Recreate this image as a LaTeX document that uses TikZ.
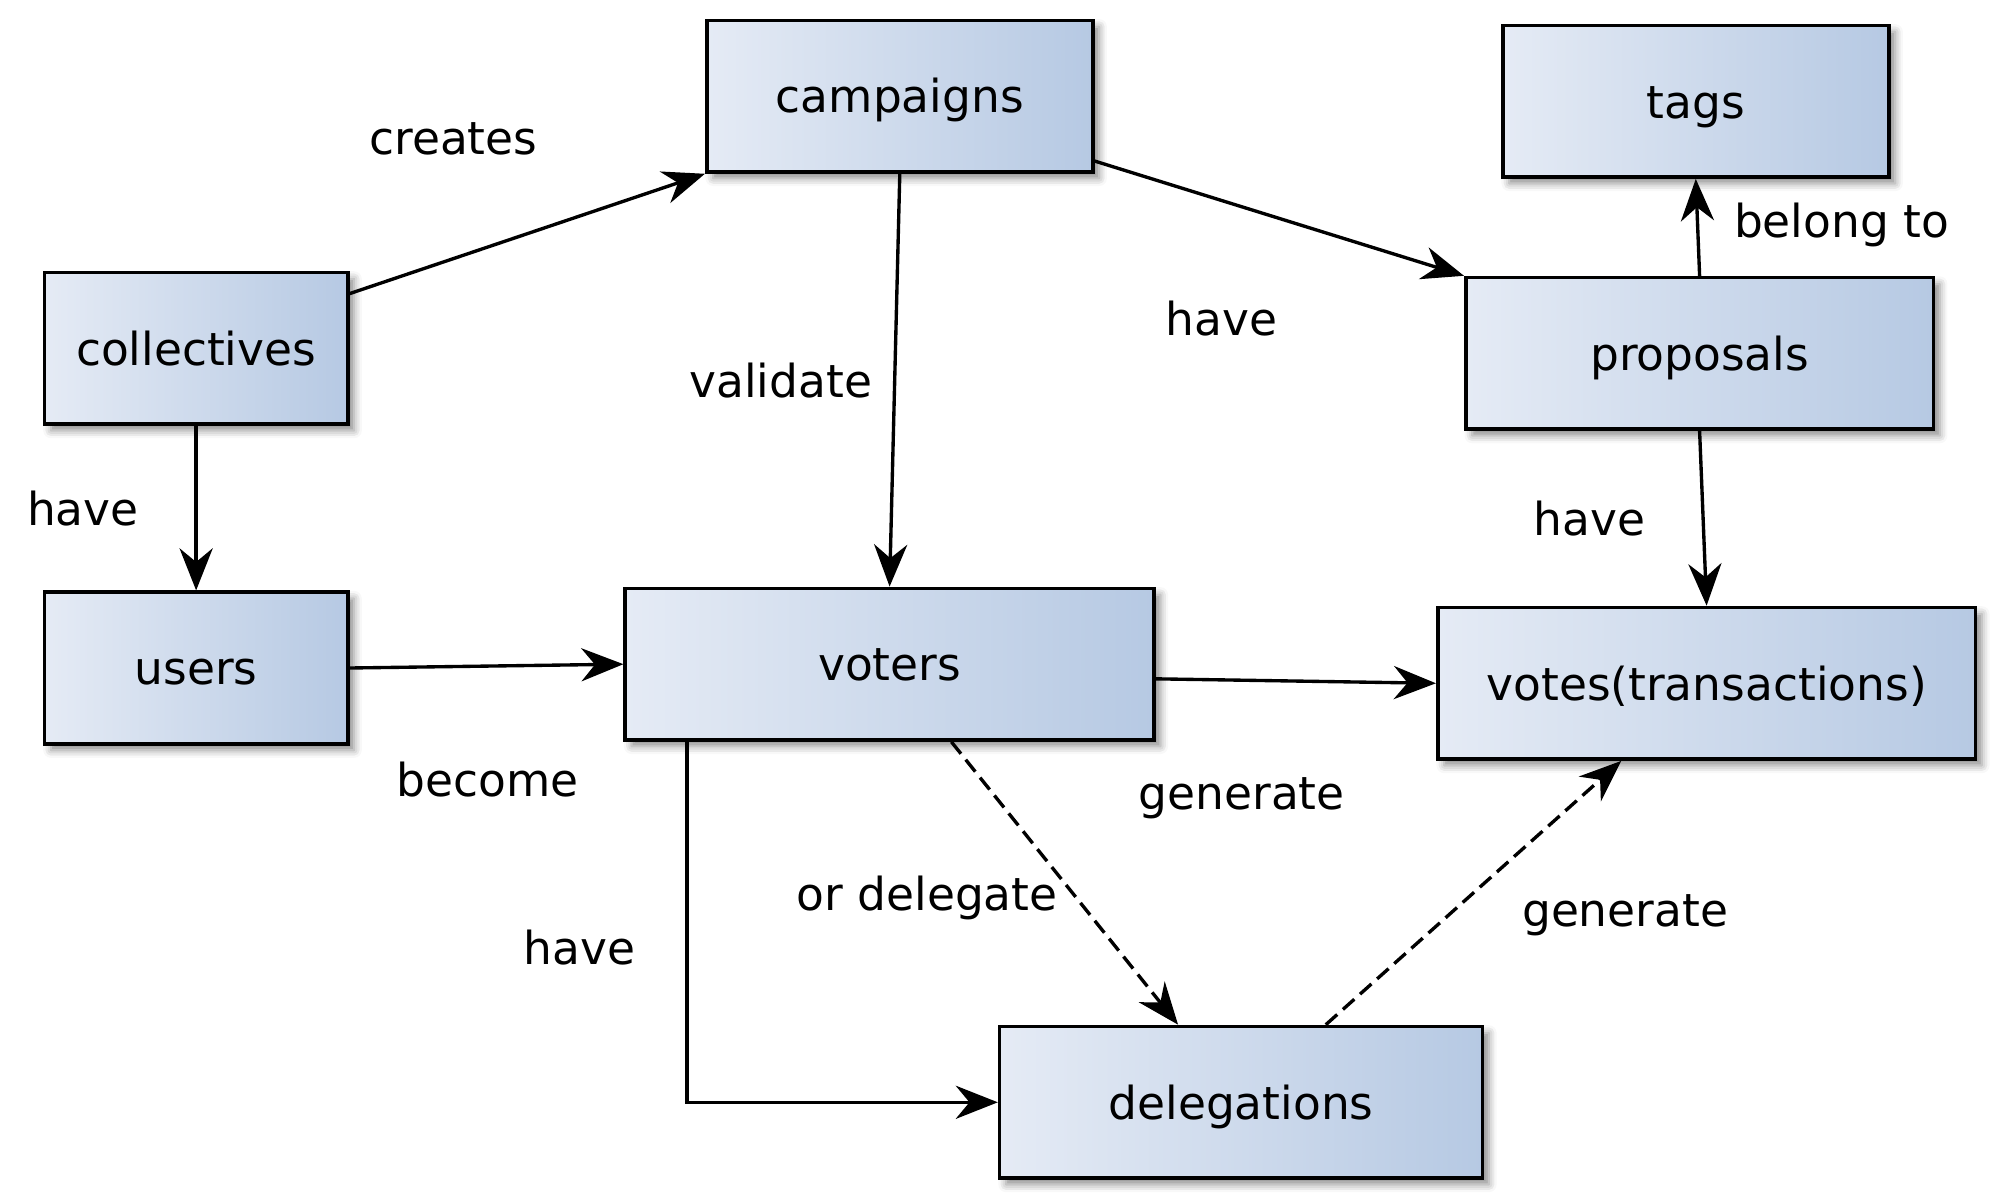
\documentclass[tikz,border=0pt]{standalone}
\usepackage{fontspec}
\setmainfont{DejaVu Sans}
\usepackage{tikz}
\usetikzlibrary{arrows.meta,calc,shadows.blur}
\definecolor{boxleft}{RGB}{229,235,245}
\definecolor{boxright}{RGB}{182,201,227}

\begin{document}
\begin{tikzpicture}[x=0.01cm,y=-0.01cm,
  font=\fontsize{10.15}{12}\selectfont,
  entity/.style={draw=black,line width=0.8pt,left color=boxleft,right color=boxright,
    minimum height=1.19cm,inner sep=0pt,text height=0.95em,text depth=0.2em,
    blur shadow={shadow xshift=0.05cm,shadow yshift=-0.05cm,shadow blur radius=0.06cm,shadow opacity=45}},
  rel/.style={line width=0.75pt,-{Stealth[length=0.33cm,width=0.26cm]}},
  weak/.style={rel,dash pattern=on 0.12cm off 0.06cm},
  lbl/.style={inner sep=0pt}]
\useasboundingbox (0,0) rectangle (1568,942);
\node[entity,minimum width=3.03cm] (campaigns) at (706.5,75.5) {campaigns};
\node[entity,minimum width=3.03cm] (tags) at (1331.5,79.5) {tags};
\node[entity,minimum width=2.38cm] (collectives) at (154,273.5) {collectives};
\node[entity,minimum width=3.67cm] (proposals) at (1334.5,277.5) {proposals};
\node[entity,minimum width=2.38cm] (users) at (154,524.5) {users};
\node[entity,minimum width=4.15cm] (voters) at (698.5,521.5) {voters};
\node[entity,minimum width=4.22cm] (votes) at (1340,536.5) {votes(transactions)};
\node[entity,minimum width=3.79cm] (delegations) at (974.5,865.5) {delegations};

\draw[rel] ($(collectives.north east)+(0,18)$) -- (campaigns.south west);
\draw[rel] (campaigns.south) -- (voters.north);
\draw[rel] ($(campaigns.south east)+(0,-10)$) -- (proposals.north west);
\draw[rel] (proposals.north) -- (tags.south);
\draw[rel] (collectives.south) -- (users.north);
\draw[rel] (users.east) -- (voters.west);
\draw[rel] (proposals.south) -- (votes.north);
\draw[rel] ($(voters.east)+(0,11.5)$) -- (votes.west);
\draw[weak] ($(voters.south)+(48.5,0)$) -- ($(delegations.north)+(-49.5,0)$);
\draw[weak] ($(delegations.north)+(66.5,0)$) -- ($(votes.south)+(-67,0)$);
\draw[rel] ($(voters.south west)+(50,0)$) |- (delegations.west);

\node[lbl] (lcreates) at (356,109) {creates};
\node[lbl] (lvalidate) at (613,299) {validate};
\node[lbl] (lhaveprop) at (959,250) {have};
\node[lbl] (lbelong) at (1446,177) {belong to};
\node[lbl] (lhaveusers) at (65,399) {have};
\node[lbl] (lhavevotes) at (1248,407) {have};
\node[lbl] (lbecome) at (383,612) {become};
\node[lbl] (lgenerate) at (975,627) {generate};
\node[lbl] (lordelegate) at (728,705) {or delegate};
\node[lbl] (lhavedeleg) at (455,744) {have};
\node[lbl] (lgenerated) at (1276,719) {generate};
\end{tikzpicture}
\end{document}
